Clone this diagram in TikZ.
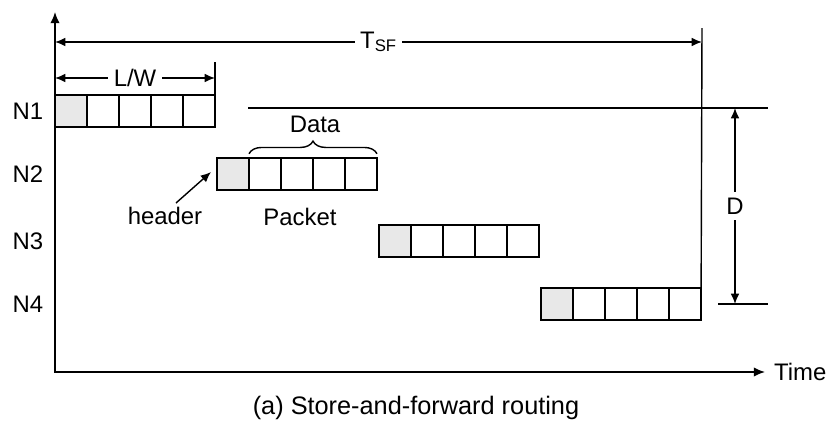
\documentclass[tikz,border=0pt]{standalone}
\usepackage{fontspec}
\setmainfont{Liberation Sans}
\usetikzlibrary{positioning,arrows.meta,decorations.pathreplacing}
\tikzset{
  cell/.style={draw, line width=1pt, minimum width=0.8cm, minimum height=0.8cm,
               inner sep=0pt, outer sep=0pt},
  hdr/.style={cell, fill=gray!18},
  lab/.style={font=\fontsize{17}{19}\selectfont, inner sep=2pt},
  gaplab/.style={lab, fill=white, inner sep=4pt},
  dim/.style={line width=1pt, {Latex[length=2.6mm,width=2.2mm]}-{Latex[length=2.6mm,width=2.2mm]}},
  ax/.style={line width=1.3pt, {Latex[length=2.8mm,width=2.4mm]}-{Latex[length=2.8mm,width=2.4mm]}},
  thin/.style={line width=1pt},
}

\begin{document}
\begin{tikzpicture}[x=0.025cm, y=-0.025cm]
  \useasboundingbox (0,0) rectangle (837,422);
  % axes
  \coordinate (ytop) at (55,12);
  \coordinate (xend) at (765,372);
  \draw[ax] (ytop) |- (xend);
  \node[lab, anchor=west] (time) at (771,372) {Time};
  \node[lab, font=\fontsize{18}{20}\selectfont] (cap) at (416,408) {(a) Store-and-forward routing};
  % packets
  \foreach \i/\xo/\yc in {1/55/111, 2/217/174, 3/379/241, 4/541/304} {
    \node[hdr] (p\i0) at (\xo+16,\yc) {};
    \foreach \j in {1,...,4}
      \node[cell] (p\i\j) at (\xo+16+32*\j,\yc) {};
    \node[lab] (n\i) at (28,\yc) {N\i};
  }
  % total time
  \coordinate (tsfa) at (55,42);
  \coordinate (tsfb) at (702,42);
  \coordinate (tsftop) at (702,28);
  \draw[dim] (tsfa) -- node[gaplab]{T\textsubscript{SF}} (tsfb);
  \draw[thin] (tsftop) -- (p44.south east);
  % packet length
  \coordinate (lwa) at (55,78);
  \coordinate (lwb) at (p14.east |- lwa);
  \coordinate (lwtop) at (p14.east |- 0,62);
  \draw[dim] (lwa) -- node[gaplab]{L/W} (lwb);
  \draw[thin] (lwtop) -- (p14.north east);
  % distance
  \coordinate (da) at (248,108);
  \coordinate (db) at (768,108);
  \coordinate (dc) at (718,304);
  \coordinate (dd) at (768,304);
  \draw[thin] (da) -- (db);
  \draw[thin] (dc) -- (dd);
  \coordinate (dtop) at (735,108);
  \coordinate (dbot) at (735,304);
  \draw[dim] (dtop) -- node[gaplab]{D} (dbot);
  % labels on packet 2
  \draw[thin, decorate, decoration={brace, amplitude=9pt, raise=3pt}]
    (p21.north west) -- (p24.north east);
  \node[lab] (data) at (315,124) {Data};
  \node[lab] (pkt) at (300,217) {Packet};
  \node[lab] (hd) at (165,216) {header};
  \coordinate (hda) at (176,203);
  \coordinate (hdb) at (211,172);
  \draw[thin, -{Latex[length=2.6mm,width=2.2mm]}] (hda) -- (hdb);
\end{tikzpicture}
\end{document}
